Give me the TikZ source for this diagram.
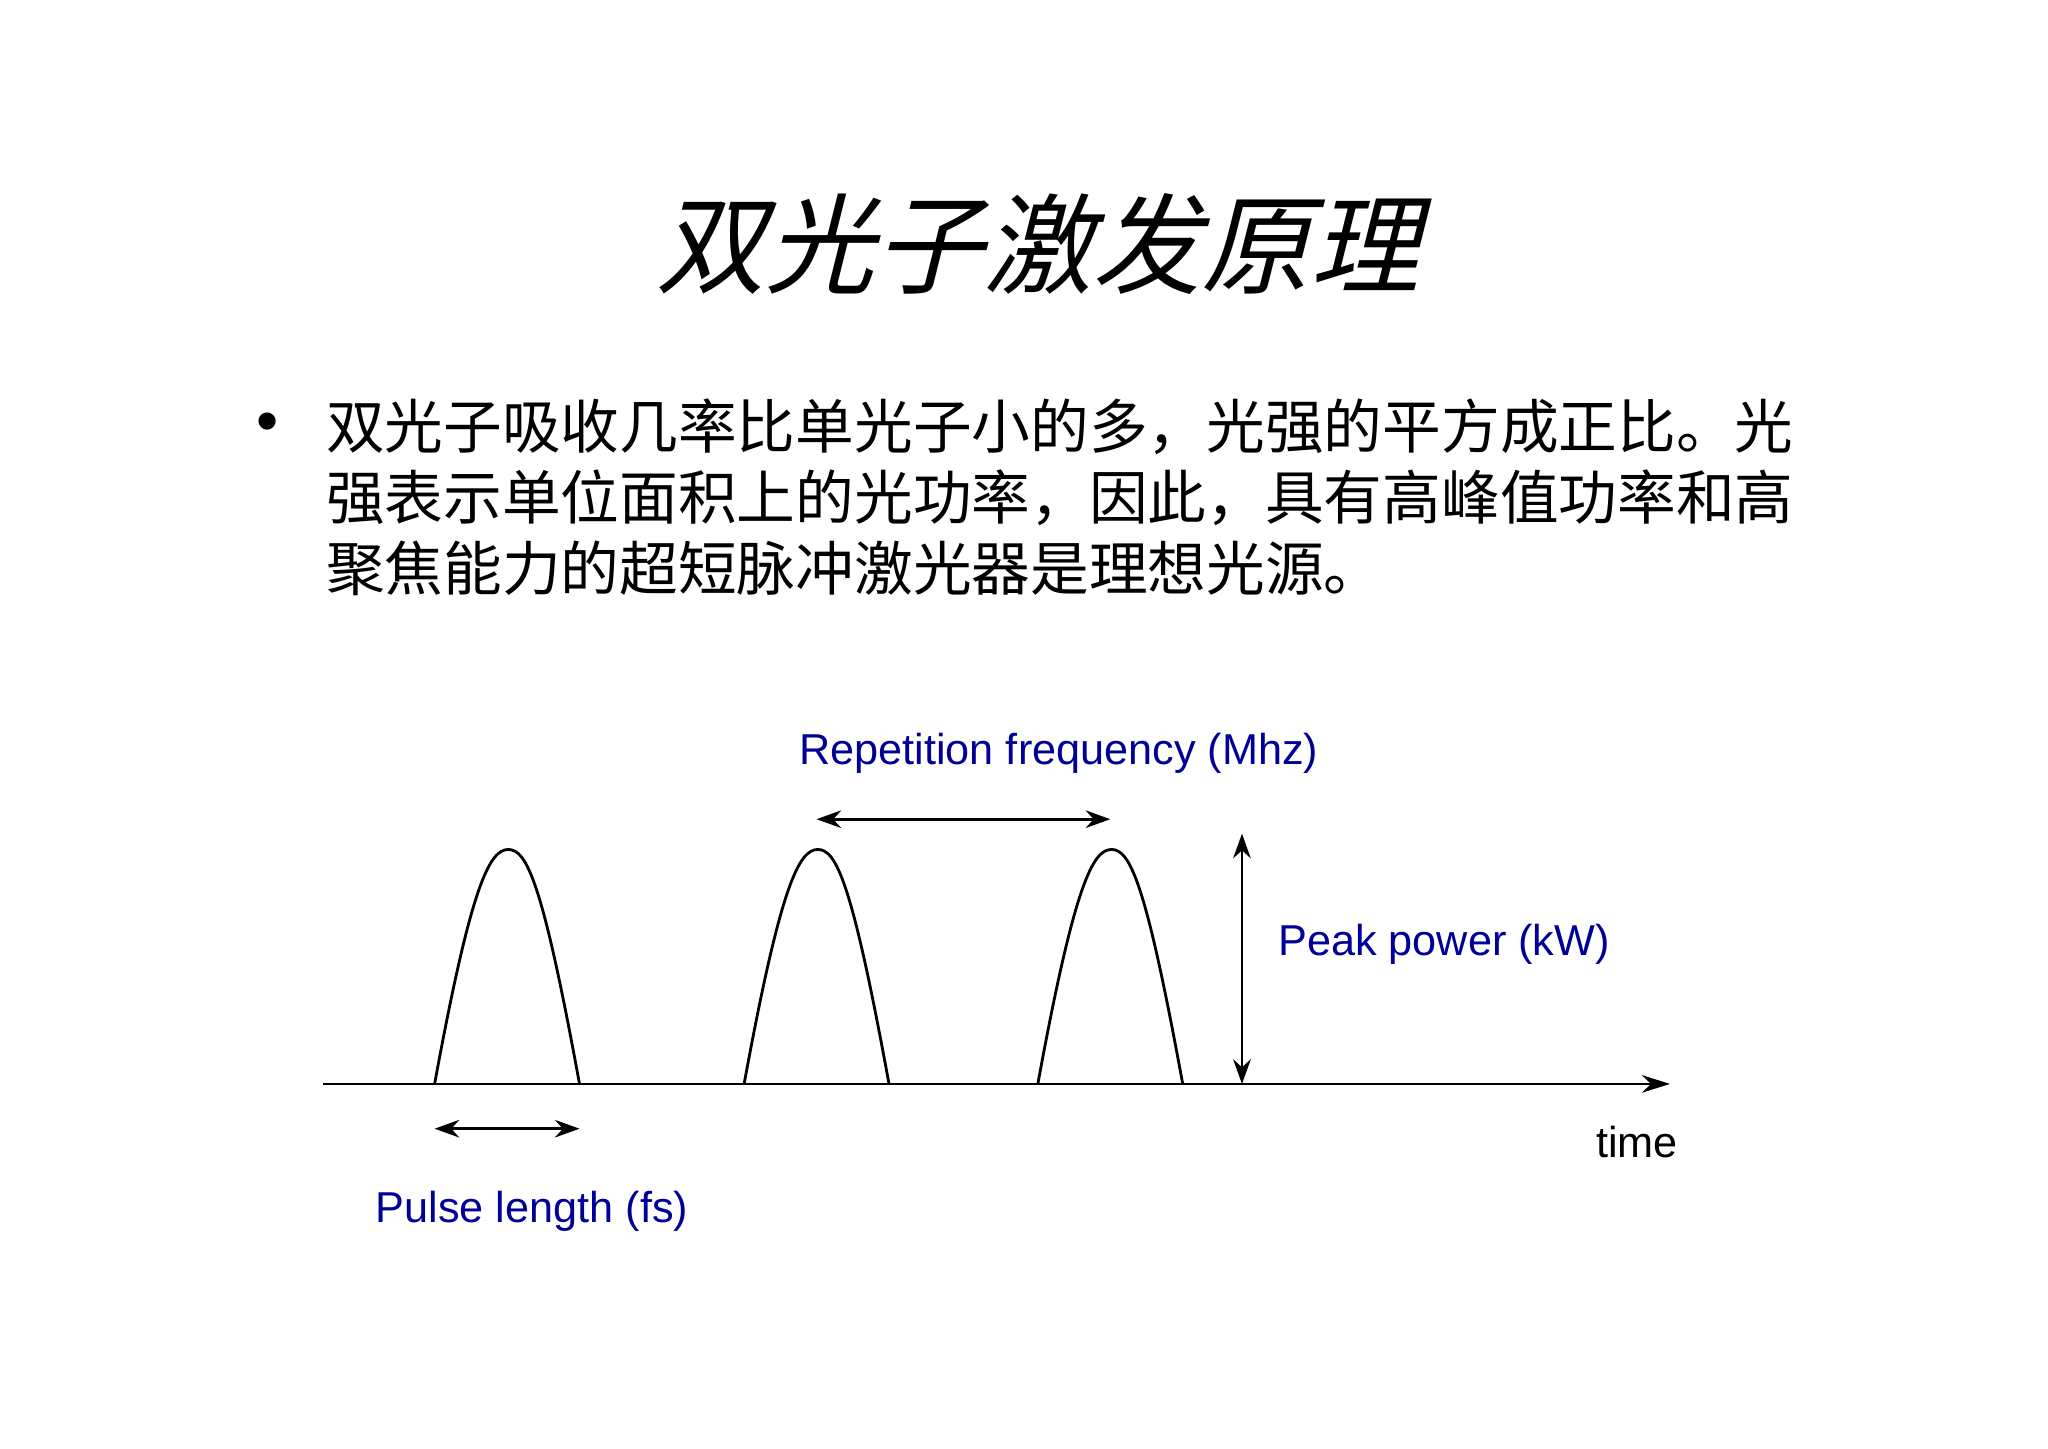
\documentclass[tikz,border=0pt]{standalone}
\usepackage{fontspec}
\setmainfont{Liberation Sans}
\newfontfamily\cjk{Noto Sans CJK SC}
\newfontfamily\cjkit[FakeSlant=0.25]{Noto Sans CJK SC}
\usetikzlibrary{arrows.meta}
\definecolor{lblue}{RGB}{0,0,153}
\begin{document}
\begin{tikzpicture}[x=0.01317cm,y=-0.01317cm,
  lbl/.style={text=lblue,font=\fontsize{12.3}{15}\selectfont,inner sep=0pt},
  dim/.style={thick,{Stealth[length=7pt,width=5pt]}-{Stealth[length=7pt,width=5pt]}},
  pulse/.style={thick}]
\useasboundingbox[fill=white] (0,0) rectangle (1555,1100);
\node[inner sep=0pt,font=\cjkit\fontsize{31}{36}\selectfont] (title) at (788,185) {双光子激发原理};
\node[inner sep=0pt,font=\fontsize{18}{20}\selectfont] (bullet) at (203,325) {•};
\node[inner sep=0pt,anchor=north west,align=left,font=\cjk\fontsize{16.7}{20.2}\selectfont] (body) at (247,302)
{双光子吸收几率比单光子小的多，光强的平方成正比。光\\强表示单位面积上的光功率，因此，具有高峰值功率和高\\聚焦能力的超短脉冲激光器是理想光源。};
\coordinate (a0) at (245,823); \coordinate (a1) at (1268,823);
\draw[thick,-{Stealth[length=8pt,width=5pt]}] (a0) -- (a1);
\foreach \n/\s in {p1/330,p2/565,p3/788}{
  \draw[pulse] (\s,823) .. controls (\s+28,670) and (\s+42,645) .. (\s+56,645)
    .. controls (\s+70,645) and (\s+82,670) .. (\s+110,823);
}
\coordinate (r0) at (620,622); \coordinate (r1) at (843,622);
\draw[dim] (r0) -- (r1);
\coordinate (v0) at (943,823); \coordinate (v1) at (943,633);
\draw[dim] (v0) -- (v1);
\coordinate (l0) at (330,857); \coordinate (l1) at (440,857);
\draw[dim] (l0) -- (l1);
\node[lbl] (rep) at (804,572) {Repetition frequency (Mhz)};
\node[lbl,anchor=west] (peak) at (970,717) {Peak power (kW)};
\node[lbl,text=black] (time) at (1243,867) {time};
\node[lbl] (plen) at (404,920) {Pulse length (fs)};
\end{tikzpicture}
\end{document}
